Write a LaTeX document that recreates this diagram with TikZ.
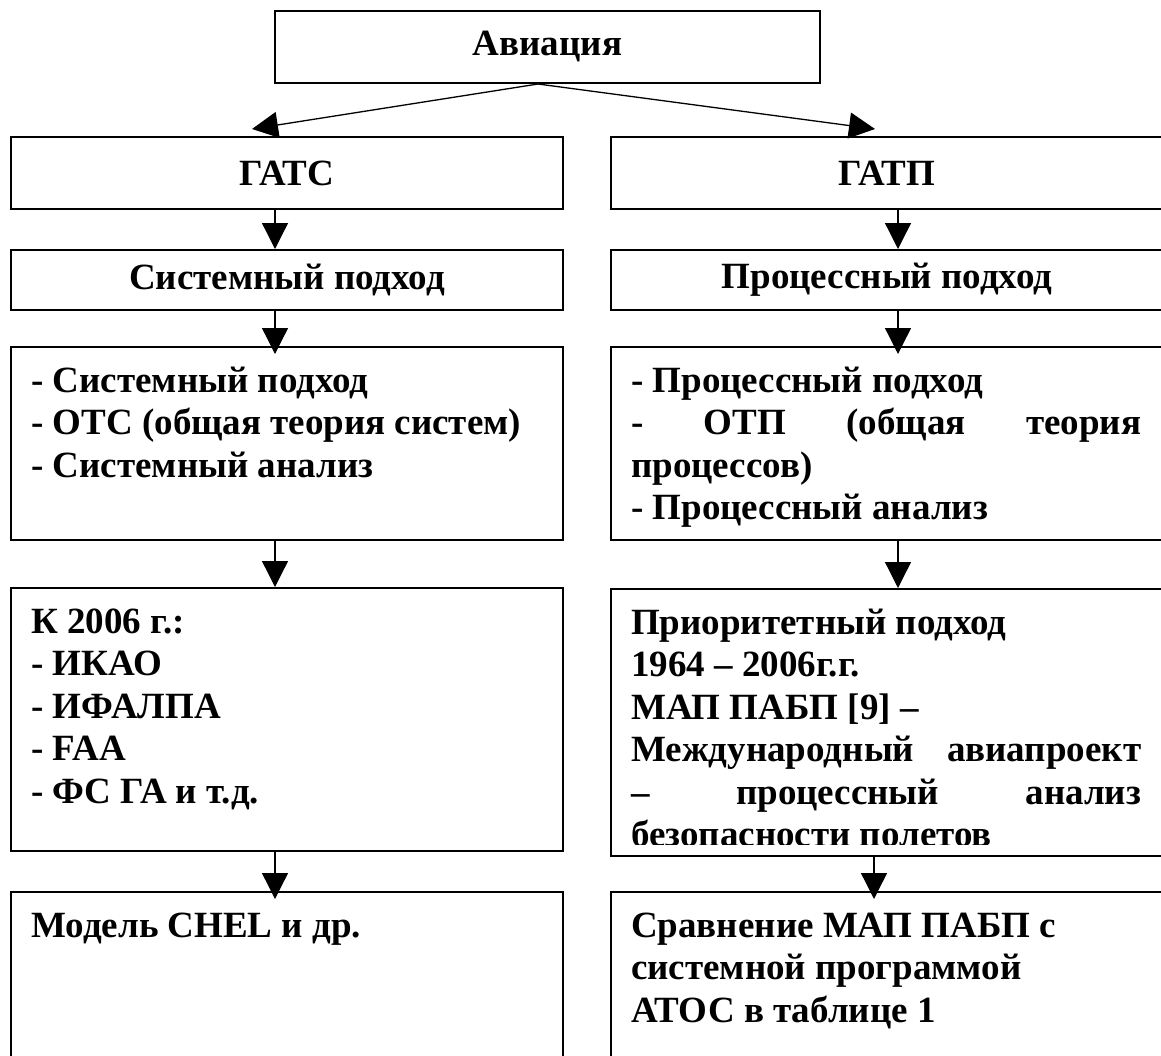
\documentclass[tikz,border=0pt]{standalone}
\usepackage{fontspec}
\setmainfont{Liberation Serif}
\usetikzlibrary{calc,arrows.meta,positioning}

\begin{document}
\begin{tikzpicture}[x=1pt, y=-1pt,
  box/.style={draw, line width=2pt, inner sep=0pt, minimum width=552pt, font=\bfseries\fontsize{37}{42.5}\selectfont},
  txt/.style={anchor=base west, inner sep=0pt, text width=510pt, align=flush left, font=\bfseries\fontsize{37}{42.5}\selectfont},
  link/.style={-{Triangle[length=26pt,width=26pt]}, line width=1.3pt}]
  \useasboundingbox (0,0) rectangle (1161,1055);

  % boxes
  \node[box, minimum width=545pt, minimum height=72pt] (avia) at (547.5,47) {Авиация};
  \node[box, minimum height=72pt] (gats) at (287,173) {ГАТС};
  \node[box, minimum height=72pt] (gatp) at (887,173) {ГАТП};
  \node[box, minimum height=60pt] (sys) at (287,280) {Системный подход};
  \node[box, minimum height=60pt] (proc) at (887,280) {Процессный подход};
  \node[box, minimum height=193pt] (sysl) at (287,443.5) {};
  \node[box, minimum height=193pt] (procl) at (887,443.5) {};
  \node[box, minimum height=263pt] (k2006) at (287,719.5) {};
  \node[box, minimum height=267pt] (prior) at (887,722.5) {};
  \node[box, minimum height=170pt] (chel) at (287,977) {};
  \node[box, minimum height=170pt] (atos) at (887,977) {};

  % texts
  \node[txt] (sysltxt) at ([xshift=21pt,yshift=-46pt]sysl.north west)
    {- Системный подход\\- ОТС (общая теория систем)\\- Системный анализ};
  \node[txt] (procltxt) at ([xshift=21pt,yshift=-46pt]procl.north west)
    {- Процессный подход\\-\hfill ОТП\hfill (общая\hfill теория\\процессов)\\- Процессный анализ};
  \node[txt] (k2006txt) at ([xshift=21pt,yshift=-46pt]k2006.north west)
    {К 2006 г.:\\- ИКАО\\- ИФАЛПА\\- FAA\\- ФС ГА и т.д.};
  \begin{scope}
    \clip (600,580) rectangle (1161,844);
    \node[txt] (priortxt) at ([xshift=21pt,yshift=-46pt]prior.north west)
      {Приоритетный подход\\1964 – 2006г.г.\\МАП ПАБП [9] –\\Международный\hfill авиапроект\\–\hfill процессный\hfill анализ\\безопасности полетов};
  \end{scope}
  \node[txt] (cheltxt) at ([xshift=21pt,yshift=-46pt]chel.north west) {Модель CHEL и др.};
  \node[txt] (atostxt) at ([xshift=21pt,yshift=-46pt]atos.north west)
    {Сравнение МАП ПАБП с\\системной программой\\АТОС в таблице 1};

  % arrows
  \path[link]
    ([xshift=-9.5pt]avia.south) edge ([xshift=-35pt,yshift=7pt]gats.north)
    ([xshift=-9.5pt]avia.south) edge ([xshift=-12pt,yshift=7pt]gatp.north)
    ([xshift=-12pt]gats.south) edge ([xshift=-12pt]sys.north)
    ([xshift=11pt]gatp.south) edge ([xshift=11pt]proc.north)
    ([xshift=-12pt]sys.south) edge ([xshift=-12pt,yshift=-8pt]sysl.north)
    ([xshift=11pt]proc.south) edge ([xshift=11pt,yshift=-8pt]procl.north)
    ([xshift=-12pt]sysl.south) edge ([xshift=-12pt]k2006.north)
    ([xshift=11pt]procl.south) edge ([xshift=11pt]prior.north)
    ([xshift=-12pt]k2006.south) edge ([xshift=-12pt,yshift=-8pt]chel.north)
    ([xshift=-13pt]prior.south) edge ([xshift=-13pt,yshift=-8pt]atos.north);
\end{tikzpicture}
\end{document}
